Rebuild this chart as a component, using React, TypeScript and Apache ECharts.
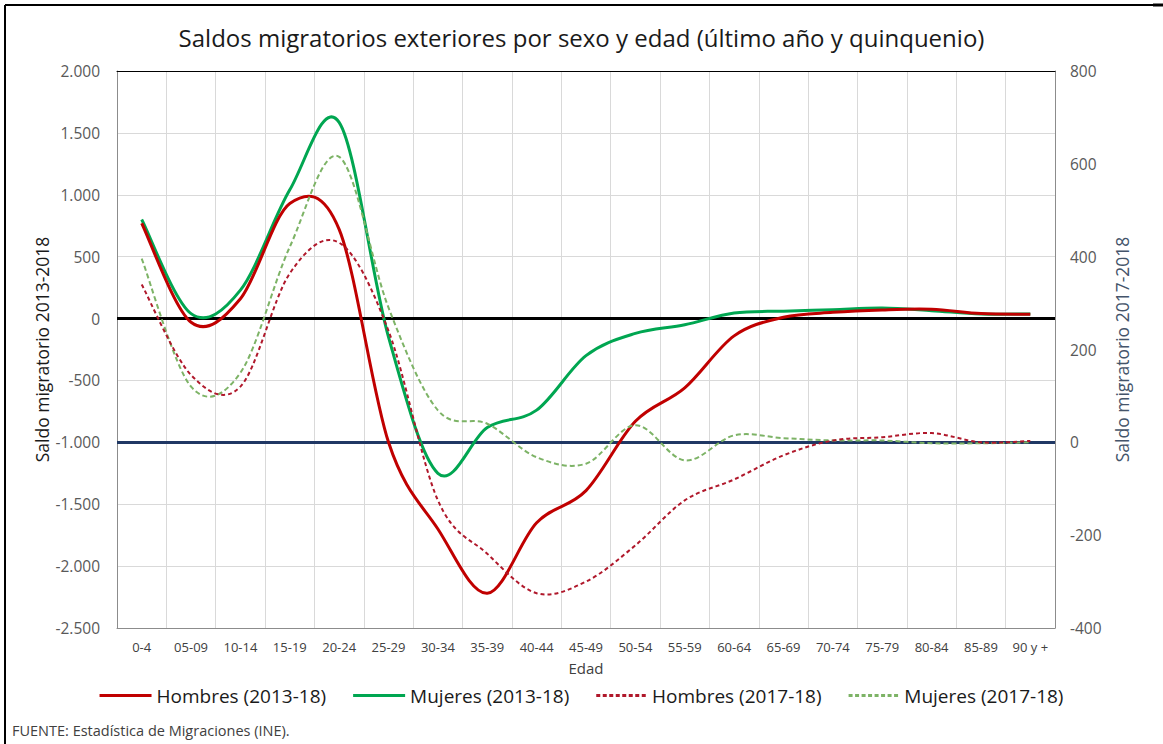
import React, { useEffect, useRef } from "react";
import * as echarts from "echarts";

const categories = ["0-4", "05-09", "10-14", "15-19", "20-24", "25-29", "30-34", "35-39", "40-44", "45-49", "50-54", "55-59", "60-64", "65-69", "70-74", "75-79", "80-84", "85-89", "90 y +"];
const hombres1318 = [770, -30, 160, 930, 720, -1000, -1700, -2220, -1650, -1390, -830, -560, -140, 10, 50, 70, 75, 40, 35];
const mujeres1318 = [800, 40, 230, 1040, 1585, -150, -1250, -880, -740, -300, -120, -50, 45, 60, 72, 85, 64, 37, 37];
const hombres1718 = [340, 145, 120, 364, 430, 240, -125, -240, -325, -300, -222, -125, -80, -28, 4, 11, 20, 0, 3];
const mujeres1718 = [396, 120, 150, 421, 615, 290, 69, 40, -32, -46, 37, -39, 15, 9, 4, 4, -2, -2, 0];

const leftTicks = { min: -2500, max: 2000, interval: 500 };
const rightTicks = { min: -400, max: 800, interval: 200 };

const FONT = "'Open Sans', 'Noto Sans', sans-serif";

const fmtDot = (v: number) => {
  const s = Math.abs(v).toString().replace(/\B(?=(\d{3})+(?!\d))/g, ".");
  return (v < 0 ? "-" : "") + s;
};

// dashed legend icon (52 x 3 box)
const dashIcon = (() => {
  let d = "path://";
  for (let x = 0; x < 52; x += 6.5) {
    const w = Math.min(4, 52 - x);
    d += `M${x},0h${w}v3h-${w}z `;
  }
  return d.trim();
})();

// Excel-like smoothed line: Catmull-Rom converted to cubic Bezier, in pixel space
function smoothSeries(name: string, values: number[], yAxisIndex: number, color: string, width: number, dash: number[] | null, z: number) {
  return {
    name,
    type: "custom",
    yAxisIndex,
    z,
    itemStyle: { color },
    data: values.map((v, i) => [i, v]),
    encode: { x: 0, y: 1 },
    renderItem: (params: any, api: any) => {
      if (params.dataIndex !== 0) return null;
      const pts = values.map((v, i) => api.coord([i, v]));
      const n = pts.length;
      let d = `M${pts[0][0]},${pts[0][1]}`;
      for (let i = 0; i < n - 1; i++) {
        const p0 = pts[Math.max(0, i - 1)];
        const p1 = pts[i];
        const p2 = pts[i + 1];
        const p3 = pts[Math.min(n - 1, i + 2)];
        const c1x = p1[0] + (p2[0] - p0[0]) / 6;
        const c1y = p1[1] + (p2[1] - p0[1]) / 6;
        const c2x = p2[0] - (p3[0] - p1[0]) / 6;
        const c2y = p2[1] - (p3[1] - p1[1]) / 6;
        d += ` C${c1x},${c1y} ${c2x},${c2y} ${p2[0]},${p2[1]}`;
      }
      return {
        type: "path",
        shape: { pathData: d },
        style: { fill: "none", stroke: color, lineWidth: width, lineDash: dash || undefined, lineJoin: "round", lineCap: "butt" },
      };
    },
  };
}

const C_H13 = "#C00000";
const C_M13 = "#00A651";
const C_H17 = "#B0182B";
const C_M17 = "#7DB366";

export default function App() {
  const ref = useRef<HTMLDivElement>(null);
  useEffect(() => {
    document.body.style.margin = "0";
    if (!ref.current) return;
    const chart = echarts.init(ref.current, null, { renderer: "svg" });
    chart.setOption({
      animation: false,
      backgroundColor: "#ffffff",
      textStyle: { fontFamily: FONT },
      title: {
        text: "Saldos migratorios exteriores por sexo y edad (último año y quinquenio)",
        left: "center",
        top: 20,
        textStyle: { fontFamily: FONT, fontSize: 24, fontWeight: "normal", color: "#1a1a1a" },
      },
      grid: { left: 117, right: 108, top: 71, bottom: 116, containLabel: false },
      legend: {
        bottom: 34,
        left: "center",
        itemWidth: 52,
        itemHeight: 3,
        itemGap: 27,
        textStyle: { fontFamily: FONT, fontSize: 19, color: "#1a1a1a" },
        data: [
          { name: "Hombres (2013-18)", icon: "rect" },
          { name: "Mujeres (2013-18)", icon: "rect" },
          { name: "Hombres (2017-18)", icon: dashIcon },
          { name: "Mujeres (2017-18)", icon: dashIcon },
        ],
      },
      xAxis: [
        {
          type: "category",
          data: categories,
          boundaryGap: true,
          name: "Edad",
          nameLocation: "middle",
          nameGap: 32,
          nameMoveOverlap: false,
          nameTextStyle: { fontFamily: FONT, fontSize: 15, color: "#404040" },
          axisLine: { show: true, onZero: false, lineStyle: { color: "#8c8c8c", width: 1 } },
          axisTick: { show: false },
          axisLabel: { interval: 0, margin: 12, fontFamily: FONT, fontSize: 13, color: "#404040" },
          splitLine: { show: true, lineStyle: { color: "#d9d9d9", width: 1 } },
        },
        {
          type: "category",
          data: categories,
          position: "top",
          axisLine: { show: true, onZero: false, lineStyle: { color: "#000000", width: 1 } },
          axisTick: { show: false },
          axisLabel: { show: false },
          splitLine: { show: false },
        },
      ],
      yAxis: [
        {
          type: "value",
          min: leftTicks.min,
          max: leftTicks.max,
          interval: leftTicks.interval,
          name: "Saldo migratorio 2013-2018",
          nameLocation: "middle",
          nameGap: 66,
          nameMoveOverlap: false,
          nameTextStyle: { fontFamily: FONT, fontSize: 17.5, color: "#1a1a1a" },
          axisLine: { show: true, onZero: false, lineStyle: { color: "#8c8c8c", width: 1 } },
          axisTick: { show: false },
          axisLabel: { margin: 17, fontFamily: FONT, fontSize: 15.5, color: "#595959", formatter: fmtDot },
          splitLine: { show: true, lineStyle: { color: "#d9d9d9", width: 1 } },
        },
        {
          type: "value",
          min: rightTicks.min,
          max: rightTicks.max,
          interval: rightTicks.interval,
          position: "right",
          name: "Saldo migratorio 2017-2018",
          nameLocation: "middle",
          nameGap: 58,
          nameMoveOverlap: false,
          nameTextStyle: { fontFamily: FONT, fontSize: 17.5, color: "#44546A" },
          axisLine: { show: true, onZero: false, lineStyle: { color: "#8c8c8c", width: 1 } },
          axisTick: { show: false },
          axisLabel: { margin: 15, fontFamily: FONT, fontSize: 15.5, color: "#595959" },
          splitLine: { show: false },
        },
      ],
      series: [
        {
          name: "zeroLeft",
          type: "line",
          data: [],
          yAxisIndex: 0,
          markLine: {
            silent: true,
            symbol: "none",
            z: 1,
            label: { show: false },
            lineStyle: { color: "#000000", width: 3, type: "solid" },
            data: [{ yAxis: 0 }],
          },
        },
        {
          name: "zeroRight",
          type: "line",
          data: [],
          yAxisIndex: 1,
          markLine: {
            silent: true,
            symbol: "none",
            z: 1,
            label: { show: false },
            lineStyle: { color: "#203864", width: 3, type: "solid" },
            data: [{ yAxis: 0 }],
          },
        },
        smoothSeries("Mujeres (2013-18)", mujeres1318, 0, C_M13, 3, null, 3),
        smoothSeries("Hombres (2013-18)", hombres1318, 0, C_H13, 3, null, 4),
        smoothSeries("Mujeres (2017-18)", mujeres1718, 1, C_M17, 2, [5, 3], 5),
        smoothSeries("Hombres (2017-18)", hombres1718, 1, C_H17, 2, [4, 3], 5),
      ],
      graphic: [
        { type: "line", shape: { x1: 5, y1: 5, x2: 1158, y2: 5 }, style: { stroke: "#000000", lineWidth: 2 } },
        { type: "line", shape: { x1: 1153, y1: 5, x2: 1163, y2: 5 }, style: { stroke: "#000000", lineWidth: 3 } },
        { type: "line", shape: { x1: 5, y1: 5, x2: 5, y2: 744 }, style: { stroke: "#000000", lineWidth: 2 } },
        {
          type: "text",
          left: 12,
          top: 723,
          style: {
            text: "FUENTE: Estadística de Migraciones (INE).",
            font: `14.5px ${FONT}`,
            fill: "#404040",
          },
        },
      ],
    });
    return () => chart.dispose();
  }, []);
  return <div ref={ref} style={{ width: 1163, height: 744 }} />;
}
